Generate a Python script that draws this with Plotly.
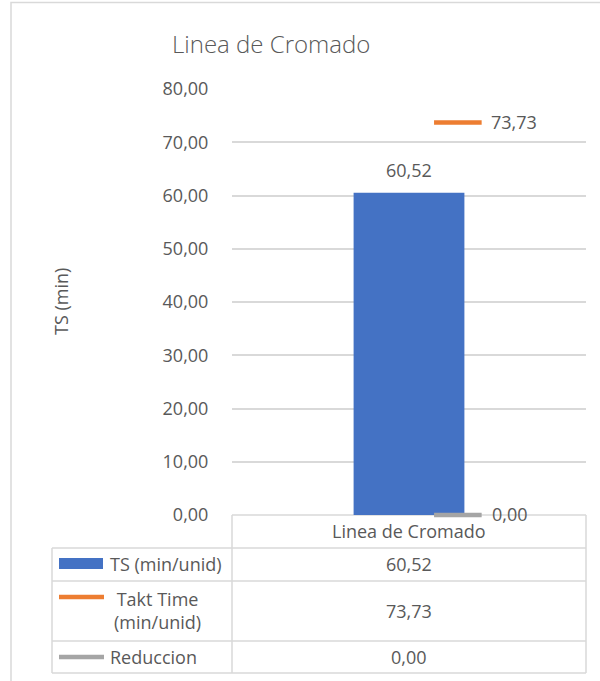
import plotly.graph_objects as go

categories = ["Linea de Cromado"]
ts_values = [60.52]
takt_values = [73.73]
reduccion_values = [0.00]
series_names = ["TS (min/unid)", "Takt Time<br>(min/unid)", "Reduccion"]
title_text = "Linea de Cromado"
y_title = "TS (min)"
y_ticks = [0, 10, 20, 30, 40, 50, 60, 70, 80]

BLUE = "#4472C4"
ORANGE = "#ED7D31"
GREY = "#A5A5A5"
TXT = "#595959"
LINE = "#D9D9D9"
FONT = "Open Sans"

# plot area in pixels: x 232..586, y 89..515
L, R, T, B = 232, 586, 89, 515
W, H = 600, 681


def px(x):
    return (x - L) / (R - L)


def py(y):
    return (B - y) / (B - T)


def fmt(v):
    return f"{v:.2f}".replace(".", ",")


def font(size=18, weight=None):
    d = dict(size=size, color=TXT, family=FONT)
    if weight:
        d["weight"] = weight
    return d


fig = go.Figure()
fig.add_trace(go.Bar(x=categories, y=ts_values, width=0.313,
                     marker=dict(color=BLUE, line=dict(width=0)),
                     hoverinfo="skip", showlegend=False))

idx = list(range(len(categories)))
for vals, col in [(takt_values, ORANGE), (reduccion_values, GREY)]:
    fig.add_trace(go.Scatter(x=[i + 0.138 for i in idx], y=vals, xaxis="x2",
                             mode="markers", cliponaxis=False,
                             marker=dict(symbol="line-ew", size=34, color=col,
                                         line=dict(color=col, width=4.5)),
                             hoverinfo="skip", showlegend=False))

ann = []
# data labels
for c, v in zip(categories, ts_values):
    ann.append(dict(x=c, y=v, xref="x", yref="y", text=fmt(v), showarrow=False,
                    xanchor="center", yanchor="middle", yshift=23, font=font()))
for i, v in zip(idx, takt_values):
    ann.append(dict(x=i + 0.138, y=v, xref="x2", yref="y", text=fmt(v), showarrow=False,
                    xanchor="left", yanchor="middle", xshift=31, font=font()))
for i, v in zip(idx, reduccion_values):
    ann.append(dict(x=i + 0.138, y=v, xref="x2", yref="y", text=fmt(v), showarrow=False,
                    xanchor="left", yanchor="middle", xshift=32, yshift=1, font=font()))

# title and axis title
ann.append(dict(x=px(271), y=py(43), xref="paper", yref="paper", text=title_text,
                xanchor="center", yanchor="middle", showarrow=False, font=font(24, 300)))
ann.append(dict(x=px(61), y=py(302), xref="paper", yref="paper", text=y_title,
                xanchor="center", yanchor="middle", showarrow=False, textangle=-90,
                font=font()))

# data table
row_lines = [515, 548, 581, 641, 673]
shapes = []
shapes.append(dict(type="line", xref="paper", yref="paper", x0=px(232), x1=px(586),
                   y0=py(515), y1=py(515), layer="below", line=dict(color=LINE, width=1.5)))
for yy in row_lines[1:]:
    shapes.append(dict(type="line", xref="paper", yref="paper", x0=px(52), x1=px(586),
                       y0=py(yy), y1=py(yy), layer="below", line=dict(color=LINE, width=1.5)))
for xx, ytop in [(52, 548), (232, 515), (586, 515)]:
    shapes.append(dict(type="line", xref="paper", yref="paper", x0=px(xx), x1=px(xx),
                       y0=py(ytop), y1=py(673), layer="below", line=dict(color=LINE, width=1.5)))
# outer chart frame
shapes.append(dict(type="rect", xref="paper", yref="paper", x0=px(11), x1=px(650),
                   y0=py(2.5), y1=py(720), layer="below", line=dict(color=LINE, width=1.5)))

# header
for c in categories:
    ann.append(dict(x=px(409), y=py(531), xref="paper", yref="paper", text=c,
                    xanchor="center", yanchor="middle", showarrow=False, font=font()))

row_centers = [564, 611, 657]
row_values = [ts_values, takt_values, reduccion_values]
for yc, vals in zip(row_centers, row_values):
    for v in vals:
        ann.append(dict(x=px(409), y=py(yc), xref="paper", yref="paper", text=fmt(v),
                        xanchor="center", yanchor="middle", showarrow=False, font=font()))

# legend keys in table
shapes.append(dict(type="rect", xref="paper", yref="paper", x0=px(59), x1=px(103),
                   y0=py(558), y1=py(569), fillcolor=BLUE, line=dict(width=0)))
shapes.append(dict(type="line", xref="paper", yref="paper", x0=px(59), x1=px(104),
                   y0=py(597), y1=py(597), line=dict(color=ORANGE, width=4.5)))
shapes.append(dict(type="line", xref="paper", yref="paper", x0=px(59), x1=px(104),
                   y0=py(657), y1=py(657), line=dict(color=GREY, width=4.5)))

ann.append(dict(x=px(108), y=py(564), xref="paper", yref="paper", text=series_names[0],
                xanchor="left", yanchor="middle", showarrow=False, font=font()))
ann.append(dict(x=px(157), y=py(610), xref="paper", yref="paper", text=series_names[1],
                xanchor="center", yanchor="middle", showarrow=False, font=font()))
ann.append(dict(x=px(108), y=py(657), xref="paper", yref="paper", text=series_names[2],
                xanchor="left", yanchor="middle", showarrow=False, font=font()))

fig.update_layout(
    width=W, height=H,
    margin=dict(l=L, r=W - R, t=T, b=H - B, pad=0),
    paper_bgcolor="white", plot_bgcolor="white",
    separators=",.",
    font=dict(family=FONT, color=TXT, size=18),
    xaxis=dict(type="category", range=[-0.5, len(categories) - 0.5], showticklabels=False,
               showgrid=False, zeroline=False, showline=False, fixedrange=True),
    xaxis2=dict(overlaying="x", range=[-0.5, len(categories) - 0.5], visible=False,
                fixedrange=True),
    yaxis=dict(range=[0, 80], tickvals=y_ticks, tickformat=".2f", showgrid=True,
               gridcolor=LINE, gridwidth=1.5, zeroline=False, showline=False,
               ticks="outside", ticklen=19, tickcolor="rgba(0,0,0,0)",
               tickfont=font(), fixedrange=True),
    annotations=ann, shapes=shapes,
)

fig.write_html("out.html")
